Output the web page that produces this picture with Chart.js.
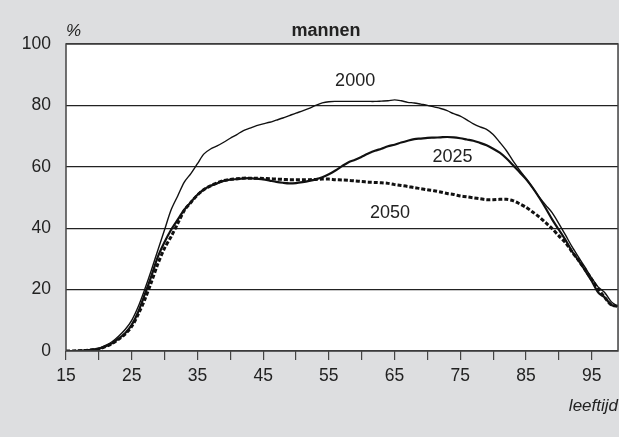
<!DOCTYPE html>
<html>
<head>
<meta charset="utf-8">
<script src="https://cdn.jsdelivr.net/npm/chart.js@4/dist/chart.umd.min.js"></script>
<style>
  html, body { margin: 0; padding: 0; background: #dddee0; }
  #wrap { width: 619px; height: 437px; }
</style>
</head>
<body>
<div id="wrap"><canvas id="lineChart"></canvas></div>
<script>
'use strict';

// ages 15 .. 99
var ages = [];
for (var a = 15; a <= 99; a++) ages.push(a);

var men2000 = [0, 0, 0.1, 0.2, 0.5, 0.9, 1.8, 3, 4.8, 7,
  10, 14.5, 20.2, 26.4, 33, 39.5, 46, 50.5, 55, 57.8,
  61, 64.2, 65.8, 66.8, 68, 69.3, 70.5, 71.8, 72.6, 73.4,
  74, 74.5, 75.2, 75.9, 76.7, 77.5, 78.2, 79, 80, 80.8,
  81.2, 81.3, 81.3, 81.3, 81.3, 81.3, 81.3, 81.3, 81.4, 81.5,
  81.8, 81.5, 81, 80.8, 80.4, 80, 79.5, 79, 78.3, 77.3,
  76.5, 75.3, 74, 73, 72.2, 70.5, 68, 65.3, 62, 59,
  56.2, 53.2, 50.2, 47.5, 45, 41.5, 37.8, 34, 30.6, 27.2,
  23.8, 20.8, 19, 16, 14.5];

var men2025 = [0, 0, 0.1, 0.2, 0.4, 0.7, 1.5, 2.5, 4, 5.8,
  8.5, 12.8, 18.5, 24.5, 30.8, 35.5, 39.5, 42.8, 46, 48.5,
  50.9, 52.6, 53.8, 54.6, 55.4, 55.8, 56, 56.2, 56.3, 56.1,
  55.9, 55.5, 55.1, 54.8, 54.6, 54.7, 55, 55.4, 55.9, 56.6,
  57.6, 58.8, 60.2, 61.5, 62.3, 63.3, 64.3, 65.2, 65.9, 66.7,
  67.2, 67.9, 68.5, 69, 69.2, 69.4, 69.5, 69.6, 69.7, 69.6,
  69.3, 68.9, 68.5, 67.8, 67, 65.9, 64.6, 62.8, 60.6, 58.3,
  56, 53.2, 50, 46.5, 42.8, 39.5, 36.2, 32.5, 29.4, 26.2,
  22.8, 19, 17.4, 15, 14.7];

var men2050 = [0, 0, 0.1, 0.2, 0.4, 0.7, 1.4, 2.4, 3.8, 5.5,
  8, 12, 16.8, 22.5, 28.5, 33.5, 37.3, 41.5, 45.8, 48.4,
  50.8, 52.6, 53.8, 54.8, 55.5, 55.9, 56.1, 56.3, 56.3, 56.3,
  56.2, 56.1, 56, 55.9, 55.8, 55.8, 55.8, 55.8, 55.9, 56,
  56, 55.8, 55.7, 55.6, 55.4, 55.2, 55, 54.9, 54.8, 54.6,
  54.2, 53.9, 53.6, 53.2, 52.9, 52.5, 52.2, 51.8, 51.3, 51,
  50.5, 50.2, 49.9, 49.6, 49.3, 49.3, 49.4, 49.4, 49, 48,
  46.8, 45.3, 43.7, 41.8, 39.8, 37.5, 35.3, 32.3, 29.5, 26.5,
  23.3, 20.2, 17.4, 15, 14.5];

var seriesNames = ['2000', '2025', '2050'];
// where each series name is written (age, %)
var nameAges = [59, 73.8, 64.3];
var nameVals = [88, 63.2, 45];

var xLabelAges = [15, 25, 35, 45, 55, 65, 75, 85, 95];
var FONT = '"Liberation Sans", Arial, sans-serif';
var INK = '#222';

function toPoints(vals) {
    var pts = [];
    for (var i = 0; i < ages.length; ++i) {
        pts.push({ x: ages[i], y: vals[i] });
    }
    return pts;
}

var decor = {
    id: 'decor',
    beforeDraw: function (chart) {
        var ctx = chart.ctx;
        var ca = chart.chartArea;
        ctx.save();
        ctx.fillStyle = '#dddee0';
        ctx.fillRect(0, 0, chart.width, chart.height);
        ctx.fillStyle = '#ffffff';
        ctx.fillRect(ca.left, ca.top, ca.right - ca.left, ca.bottom - ca.top);
        ctx.restore();
    },
    afterDatasetsDraw: function (chart) {
        var ctx = chart.ctx;
        var ca = chart.chartArea;
        var xs = chart.scales.x, ys = chart.scales.y;
        ctx.save();
        ctx.strokeStyle = '#444';
        ctx.lineWidth = 1.5;
        ctx.strokeRect(ca.left, ca.top, ca.right - ca.left, ca.bottom - ca.top);

        ctx.fillStyle = INK;
        ctx.textBaseline = 'middle';
        ctx.textAlign = 'center';
        ctx.font = '18px ' + FONT;
        for (var i = 0; i < seriesNames.length; ++i) {
            ctx.fillText(seriesNames[i], xs.getPixelForValue(nameAges[i]), ys.getPixelForValue(nameVals[i]));
        }

        ctx.font = 'bold 18px ' + FONT;
        ctx.fillText('mannen', 326, 31);

        ctx.font = 'italic 17px ' + FONT;
        ctx.textAlign = 'left';
        ctx.fillText('%', 66, 31);
        ctx.textAlign = 'right';
        ctx.fillText('leeftijd', 618, 406);
        ctx.restore();
    }
};

var lineChart = new Chart(document.getElementById('lineChart').getContext('2d'), {
    type: 'line',
    data: {
        datasets: [
            {
                label: seriesNames[0],
                data: toPoints(men2000),
                borderColor: '#111',
                borderWidth: 1.4,
                pointRadius: 0,
                tension: 0.3,
                fill: false
            },
            {
                label: seriesNames[1],
                data: toPoints(men2025),
                borderColor: '#111',
                borderWidth: 2.2,
                pointRadius: 0,
                tension: 0.3,
                fill: false
            },
            {
                label: seriesNames[2],
                data: toPoints(men2050),
                borderColor: '#111',
                borderWidth: 3,
                borderDash: [4, 2],
                pointRadius: 0,
                tension: 0.3,
                fill: false
            }
        ]
    },
    options: {
        responsive: true,
        maintainAspectRatio: false,
        animation: false,
        layout: { padding: { top: 44, right: 1, left: 0, bottom: 0 } },
        plugins: {
            legend: { display: false },
            tooltip: { enabled: false }
        },
        scales: {
            x: {
                type: 'linear',
                min: 15,
                max: 99,
                afterBuildTicks: function (scale) {
                    var t = [];
                    for (var v = 15; v <= 95; v += 5) t.push({ value: v });
                    scale.ticks = t;
                },
                afterFit: function (scale) { scale.height = 437 - 351; },
                ticks: {
                    autoSkip: false,
                    maxRotation: 0,
                    padding: 6,
                    color: INK,
                    font: { family: FONT, size: 17.5 },
                    callback: function (v) {
                        return xLabelAges.indexOf(v) >= 0 ? String(v) : '';
                    }
                },
                grid: {
                    drawOnChartArea: false,
                    drawTicks: true,
                    tickLength: 9,
                    color: '#444',
                    lineWidth: 1.2
                },
                border: { display: false }
            },
            y: {
                min: 0,
                max: 100,
                afterFit: function (scale) { scale.width = 66; },
                ticks: {
                    stepSize: 20,
                    padding: 15,
                    color: INK,
                    font: { family: FONT, size: 17.5 }
                },
                grid: {
                    drawTicks: false,
                    color: '#222',
                    lineWidth: 1.2
                },
                border: { display: false }
            }
        }
    },
    plugins: [decor]
});
</script>
</body>
</html>
